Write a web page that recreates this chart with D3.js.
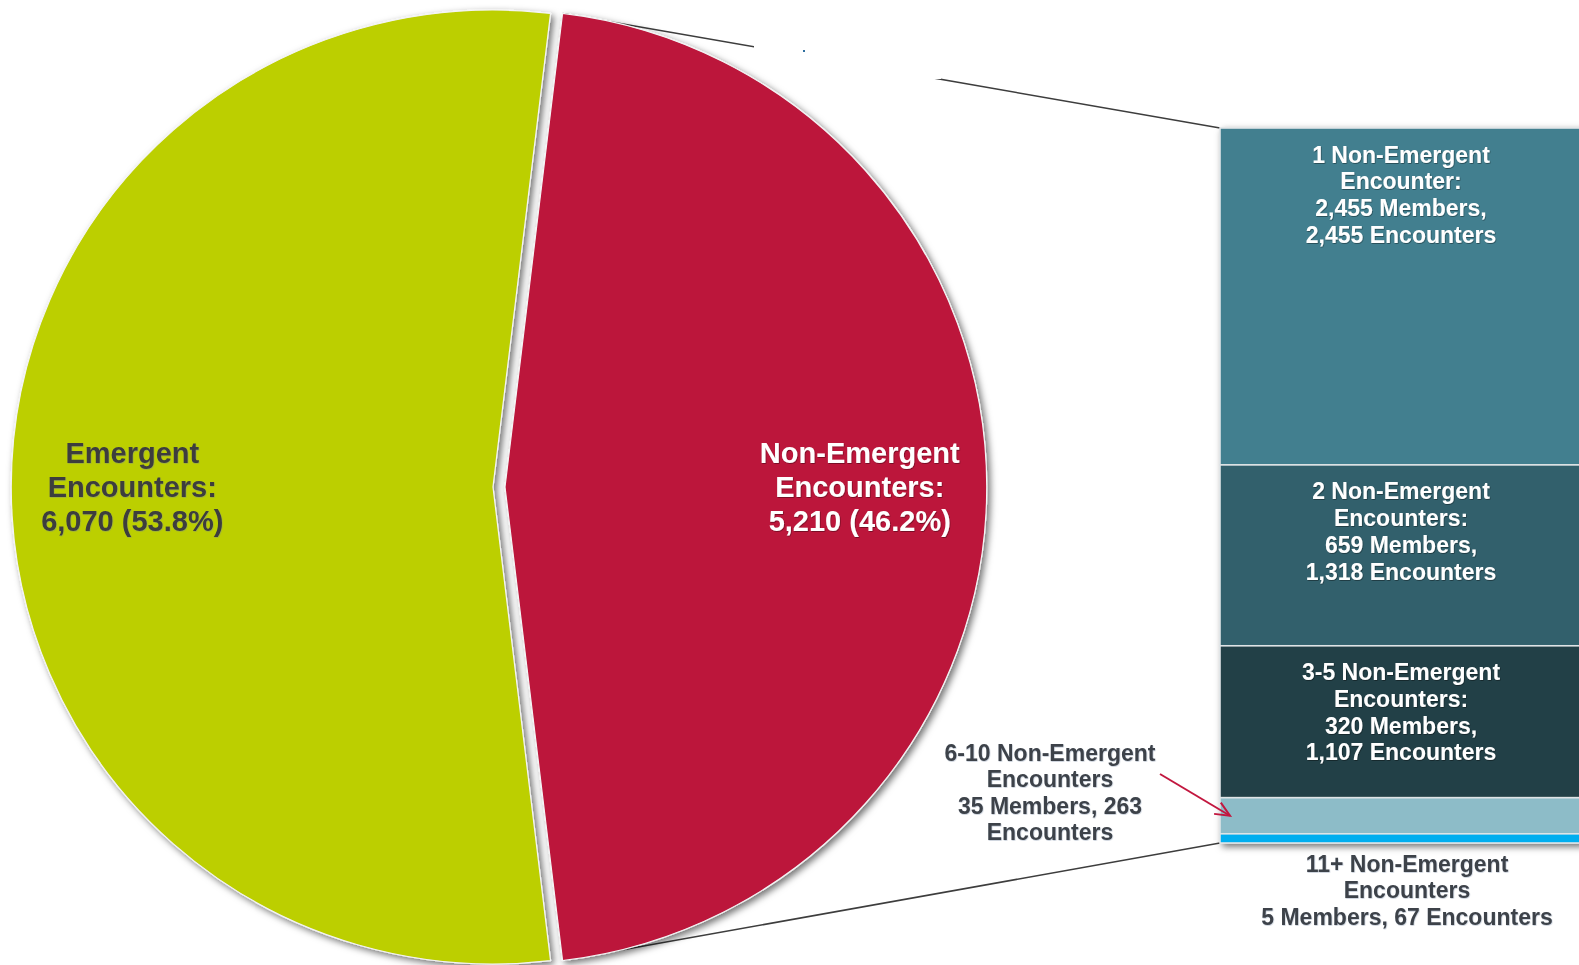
<!DOCTYPE html>
<html>
<head>
<meta charset="utf-8">
<script src="https://cdn.jsdelivr.net/npm/d3@7"></script>
<style>
  html, body { margin: 0; padding: 0; background: #fff; overflow: hidden; }
  svg { display: block; font-family: "Liberation Sans", Arial, sans-serif; }
</style>
</head>
<body>
<svg id="chart" width="1579" height="965"></svg>
<script>
// pie: all encounters split by type
var pieCategories = ["Non-Emergent", "Emergent"];
var pieValues = [5210, 6070];
var pieColors = ["#bc143b", "#bccf02"];

// breakdown of non-emergent encounters
var groupNames = ["1", "2", "3-5", "6-10", "11+"];
var groupMembers = [2455, 659, 320, 35, 5];
var groupEncounters = [2455, 1318, 1107, 263, 67];
var groupColors = ["#437f8f", "#31606c", "#243f47", "#8dbcc8", "#00aeef"];

var svg = d3.select("#chart"),
  width = +svg.attr("width"),
  height = +svg.attr("height"),
  cx = 499,
  cy = 487,
  radius = 477,
  stretch = 1.01,   // pie is drawn slightly wider than tall
  explode = 6,
  barX = 1220,
  barW = 362,
  barTop = 128,
  barBottom = 843;

var fmt = d3.format(",");
var pct = d3.format(".1%");
var total = d3.sum(pieValues);

var defs = svg.append("defs");
var shadow = defs.append("filter").attr("id", "shadow")
  .attr("x", "-10%").attr("y", "-10%").attr("width", "120%").attr("height", "120%");
shadow.append("feDropShadow").attr("dx", 3).attr("dy", 3).attr("stdDeviation", 3.5)
  .attr("flood-color", "#000").attr("flood-opacity", 0.55);

var darkGlow = defs.append("filter").attr("id", "darkglow");
darkGlow.append("feDropShadow").attr("dx", 0.6).attr("dy", 0.8).attr("stdDeviation", 0.7)
  .attr("flood-color", "#000").attr("flood-opacity", 0.45);

var lightGlow = defs.append("filter").attr("id", "lightglow");
lightGlow.append("feDropShadow").attr("dx", 0.5).attr("dy", 0.7).attr("stdDeviation", 0.7)
  .attr("flood-color", "#6b7f99").attr("flood-opacity", 0.45);

// pie layout, red slice centred on the right
var share = pieValues[0] / total;
var a0 = Math.PI / 2 - share * Math.PI;
var pie = d3.pie().sort(null).value(function(d) { return d; })
  .startAngle(a0).endAngle(a0 + 2 * Math.PI);
var arcs = pie(pieValues);
var arc = d3.arc().innerRadius(0).outerRadius(radius);

function offset(d) {
  var mid = (d.startAngle + d.endAngle) / 2;
  return [Math.sin(mid) * explode, -Math.cos(mid) * explode];
}

function corner(d, a) {
  var o = offset(d);
  return [cx + o[0] + stretch * radius * Math.sin(a), cy + o[1] - radius * Math.cos(a)];
}

// stacked bar scale
var y = d3.scaleLinear().domain([0, d3.sum(groupEncounters)]).range([barTop, barBottom]);
var cum = d3.cumsum(groupEncounters);
var segs = groupEncounters.map(function(v, i) {
  return { i: i, y0: y(cum[i] - v), y1: y(cum[i]) };
});

// connector lines from the red slice to the bar
var red = arcs[0];
var pTop = corner(red, red.startAngle),
  pBot = corner(red, red.endAngle);
var lines = svg.append("g").attr("class", "connectors");
lines.append("line")
  .attr("x1", pTop[0]).attr("y1", pTop[1]).attr("x2", barX).attr("y2", barTop)
  .attr("stroke", "#3d3d3d").attr("stroke-width", 1.6);
lines.append("line")
  .attr("x1", pBot[0]).attr("y1", pBot[1]).attr("x2", barX).attr("y2", barBottom)
  .attr("stroke", "#3d3d3d").attr("stroke-width", 1.6);
// blank box that hides part of the top connector
lines.append("rect").attr("x", 754).attr("y", 0).attr("width", 187).attr("height", 79).attr("fill", "#fff");
lines.append("rect").attr("x", 803).attr("y", 50).attr("width", 2).attr("height", 2).attr("fill", "#2f6f9f");

// pie slices
var slices = svg.append("g").attr("class", "pie").attr("filter", "url(#shadow)")
  .selectAll("path").data(arcs).enter().append("path")
  .attr("transform", function(d) {
    var o = offset(d);
    return "translate(" + (cx + o[0]) + "," + (cy + o[1]) + ") scale(" + stretch + ",1)";
  })
  .attr("d", arc)
  .attr("fill", function(d, i) { return pieColors[i]; })
  .attr("stroke", "#f4f4f4")
  .attr("stroke-width", 1.2);

// pie labels
var labelArc = d3.arc().innerRadius(radius * 0.75).outerRadius(radius * 0.75);
var pieLabels = svg.append("g").attr("class", "pie-labels")
  .selectAll("text").data(arcs).enter().append("text")
  .attr("transform", function(d) {
    var o = offset(d), c = labelArc.centroid(d);
    return "translate(" + (cx + o[0] + c[0] - 3) + "," + (cy + c[1]) + ")";
  })
  .attr("text-anchor", "middle")
  .attr("font-size", 29)
  .attr("font-weight", "bold")
  .attr("fill", function(d, i) { return i === 0 ? "#ffffff" : "#3c3c3c"; })
  .attr("filter", function(d, i) { return i === 0 ? "url(#darkglow)" : "url(#lightglow)"; });

pieLabels.each(function(d, i) {
  var rows = [pieCategories[i], "Encounters:", fmt(pieValues[i]) + " (" + pct(pieValues[i] / total) + ")"];
  d3.select(this).selectAll("tspan").data(rows).enter().append("tspan")
    .attr("x", 0)
    .attr("y", function(r, k) { return (k - 1) * 34.3; })
    .attr("dy", "0.35em")
    .text(function(r) { return r; });
});

// stacked bar
var bar = svg.append("g").attr("class", "bar").attr("filter", "url(#shadow)");
bar.selectAll("rect").data(segs).enter().append("rect")
  .attr("x", barX)
  .attr("y", function(d) { return d.y0; })
  .attr("width", barW)
  .attr("height", function(d) { return d.y1 - d.y0; })
  .attr("fill", function(d) { return groupColors[d.i]; })
  .attr("stroke", "#dfe4e6")
  .attr("stroke-width", 1.6);

function groupLines(i, inside) {
  var enc = i === 0 ? "Encounter" : "Encounters";
  if (inside) {
    return [groupNames[i] + " Non-Emergent", enc + ":", fmt(groupMembers[i]) + " Members,", fmt(groupEncounters[i]) + " Encounters"];
  }
  if (i === 3) {
    return [groupNames[i] + " Non-Emergent", enc, groupMembers[i] + " Members, " + groupEncounters[i], "Encounters"];
  }
  return [groupNames[i] + " Non-Emergent", enc, groupMembers[i] + " Members, " + groupEncounters[i] + " Encounters"];
}

var lineH = 26.7;
var barLabels = svg.append("g").attr("class", "bar-labels")
  .selectAll("text").data(segs.slice(0, 3)).enter().append("text")
  .attr("text-anchor", "middle")
  .attr("font-size", 23)
  .attr("font-weight", "bold")
  .attr("fill", "#ffffff")
  .attr("filter", "url(#darkglow)");
barLabels.each(function(d) {
  d3.select(this).selectAll("tspan").data(groupLines(d.i, true)).enter().append("tspan")
    .attr("x", barX + barW / 2)
    .attr("y", function(r, k) { return d.y0 + 26.5 + k * lineH; })
    .attr("dy", "0.35em")
    .text(function(r) { return r; });
});

// outside labels for the two thin segments
var outside = [
  { i: 3, x: 1050, y: 753 },
  { i: 4, x: 1407, y: 864 }
];
var outLabels = svg.append("g").attr("class", "outside-labels")
  .selectAll("text").data(outside).enter().append("text")
  .attr("text-anchor", "middle")
  .attr("font-size", 23)
  .attr("font-weight", "bold")
  .attr("fill", "#3e4349")
  .attr("filter", "url(#lightglow)");
outLabels.each(function(d) {
  d3.select(this).selectAll("tspan").data(groupLines(d.i, false)).enter().append("tspan")
    .attr("x", d.x)
    .attr("y", function(r, k) { return d.y + k * 26.3; })
    .attr("dy", "0.35em")
    .text(function(r) { return r; });
});

// arrow pointing at the 6-10 segment
var tip = [barX + 10, (segs[3].y0 + segs[3].y1) / 2];
var tail = [1160, 774];
var ang = Math.atan2(tip[1] - tail[1], tip[0] - tail[0]);
var head = 16, spread = 0.42;
var arrow = svg.append("g").attr("class", "arrow")
  .attr("stroke", "#c2173f").attr("stroke-width", 2).attr("fill", "none");
arrow.append("line").attr("x1", tail[0]).attr("y1", tail[1]).attr("x2", tip[0]).attr("y2", tip[1]);
arrow.append("path").attr("d", d3.line()([
  [tip[0] - head * Math.cos(ang - spread), tip[1] - head * Math.sin(ang - spread)],
  tip,
  [tip[0] - head * Math.cos(ang + spread), tip[1] - head * Math.sin(ang + spread)]
]));
</script>
</body>
</html>
